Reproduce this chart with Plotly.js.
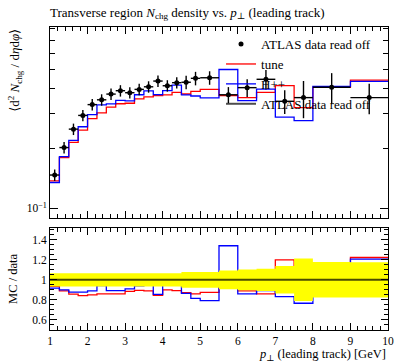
<!DOCTYPE html>
<html>
<head>
<meta charset="utf-8">
<script src="https://cdn.plot.ly/plotly-3.0.1.min.js"></script>
<style>html,body{margin:0;padding:0;background:#fff;}#chart{width:397px;height:362px;}</style>
</head>
<body>
<div id="chart"></div>
<script>
// Bin edges in p_T (leading track) [GeV]
const binEdges = [1,1.25,1.5,1.75,2,2.25,2.5,2.75,3,3.25,3.5,3.75,4,4.25,4.5,4.75,5,5.5,6,6.5,7,7.5,8,9,10];
const dataVals = [0.147,0.202,0.250,0.293,0.332,0.351,0.375,0.390,0.381,0.396,0.408,0.436,0.413,0.428,0.430,0.450,0.453,0.372,0.404,0.445,0.345,0.360,0.406,0.360];
// relative data uncertainty
const dataRelErr = [0.066,0.066,0.066,0.066,0.066,0.066,0.066,0.066,0.066,0.066,0.066,0.066,0.066,0.066,0.078,0.078,0.078,0.093,0.103,0.112,0.137,0.212,0.177,0.175];
// MC: tune
const tuneVals = [0.1374,0.1798,0.2143,0.2470,0.2822,0.3019,0.3225,0.3354,0.3372,0.3544,0.3631,0.3684,0.3717,0.3822,0.3754,0.3870,0.3964,0.368,0.3596,0.3827,0.4140,0.3204,0.406,0.4403];
// MC: H++
const hppVals = [0.1348,0.1818,0.2193,0.2570,0.2955,0.3310,0.3349,0.3483,0.3467,0.3722,0.3896,0.3728,0.3903,0.4164,0.3720,0.3668,0.3592,0.4985,0.3474,0.3974,0.2874,0.2761,0.4101,0.4345];
const xTickVals = [1,2,3,4,5,6,7,8,9,10];
const ratioTickVals = [0.6,0.8,1,1.2,1.4];
const ratioTickText = ['0.6','0.8','1','1.2','1.4'];

const centers = dataVals.map((_, i) => (binEdges[i] + binEdges[i+1]) / 2);
const halfW = dataVals.map((_, i) => (binEdges[i+1] - binEdges[i]) / 2);
const stepY = v => v.concat([v[v.length-1]]);
const dataErr = dataVals.map((v, i) => v * dataRelErr[i]);
const tuneRatio = tuneVals.map((v, i) => v / dataVals[i]);
const hppRatio = hppVals.map((v, i) => v / dataVals[i]);
const dataRatio = dataVals.map(v => v / v);
const bandLo = dataRelErr.map((e, i) => dataRatio[i] - e);
const bandHi = dataRelErr.map((e, i) => dataRatio[i] + e);

const RED = '#ff0000', BLUE = '#0000ff';
const FONT = 'Liberation Serif, DejaVu Serif, serif';

const traces = [
  {x: binEdges, y: stepY(tuneVals), type:'scatter', mode:'lines', line:{shape:'hv', color:RED, width:1.3}, name:'tune', legendrank:2, xaxis:'x', yaxis:'y'},
  {x: binEdges, y: stepY(hppVals), type:'scatter', mode:'lines', line:{shape:'hv', color:BLUE, width:1.3}, name:'H++', legendrank:3, xaxis:'x', yaxis:'y'},
  {x: centers, y: dataVals, type:'scatter', mode:'markers', marker:{color:'#000', size:5},
   error_y:{type:'data', array:dataErr, color:'#000', thickness:1.4, width:0},
   error_x:{type:'data', array:halfW, color:'#000', thickness:1.4, width:0},
   name:'ATLAS data read off', legendrank:1, xaxis:'x', yaxis:'y'},
  {x: binEdges, y: stepY(tuneRatio), type:'scatter', mode:'lines', line:{shape:'hv', color:RED, width:1.3}, showlegend:false, xaxis:'x2', yaxis:'y2'},
  {x: binEdges, y: stepY(hppRatio), type:'scatter', mode:'lines', line:{shape:'hv', color:BLUE, width:1.3}, showlegend:false, xaxis:'x2', yaxis:'y2'},
  {x: binEdges, y: stepY(bandLo), type:'scatter', mode:'lines', line:{shape:'hv', width:0, color:'#ffff00'}, showlegend:false, hoverinfo:'skip', xaxis:'x2', yaxis:'y2'},
  {x: binEdges, y: stepY(bandHi), type:'scatter', mode:'lines', line:{shape:'hv', width:0, color:'#ffff00'}, fill:'tonexty', fillcolor:'#ffff00', showlegend:false, hoverinfo:'skip', xaxis:'x2', yaxis:'y2'},
  {x: binEdges, y: stepY(dataRatio), type:'scatter', mode:'lines', line:{shape:'hv', color:'rgba(0,0,0,0.7)', width:2}, name:'ATLAS data read off', legendrank:4, xaxis:'x2', yaxis:'y2'}
];

const axCommon = {showline:true, linecolor:'#000', linewidth:1, mirror:'allticks', ticks:'inside', tickcolor:'#000', showgrid:false, zeroline:false, tickfont:{family:FONT, size:11.5, color:'#000'}};

const layout = {
  width:397, height:362,
  margin:{l:50, r:9, t:27, b:32},
  paper_bgcolor:'#fff', plot_bgcolor:'#fff',
  font:{family:FONT, color:'#000', size:12},
  showlegend:true,
  legend:{x:0.506, y:0.993, xanchor:'left', yanchor:'top', traceorder:'normal', bgcolor:'rgba(0,0,0,0)', font:{family:FONT, size:13, color:'#000'}, tracegroupgap:0, itemwidth:30},
  title:{text:'Transverse region <i>N</i><sub>chg</sub> density vs. <i>p</i><sub>⊥</sub> (leading track)', x:0, xref:'paper', xanchor:'left', y:1-12/362, yref:'container', yanchor:'middle', font:{family:FONT, size:13, color:'#000'}},
  xaxis: Object.assign({}, axCommon, {domain:[0,1], anchor:'y', range:[1,10], tickmode:'array', tickvals:xTickVals, showticklabels:false, ticklen:7, minor:{dtick:0.2, tick0:1, ticklen:4, ticks:'inside', tickcolor:'#000'}}),
  yaxis: Object.assign({}, axCommon, {domain:[0.3696,1], anchor:'x', type:'log', range:[Math.log10(0.0894), Math.log10(0.815)], tickmode:'array', tickvals:[0.1], ticktext:['10<sup>−1</sup>'], ticklen:8, minor:{tickmode:'array', tickvals:[0.09,0.2,0.3,0.4,0.5,0.6,0.7,0.8], ticklen:5, ticks:'inside', tickcolor:'#000'}}),
  xaxis2: Object.assign({}, axCommon, {domain:[0,1], anchor:'y2', range:[1,10], tickmode:'array', tickvals:xTickVals, ticklen:7, minor:{dtick:0.2, tick0:1, ticklen:4, ticks:'inside', tickcolor:'#000'}}),
  yaxis2: Object.assign({}, axCommon, {domain:[0,0.3366], anchor:'x2', range:[0.5,1.517], tickmode:'array', tickvals:ratioTickVals, ticktext:ratioTickText, ticklen:7, minor:{dtick:0.05, tick0:0, ticklen:4, ticks:'inside', tickcolor:'#000'}}),
  annotations:[
    {text:'⟨d<sup>2</sup> <i>N</i><sub>chg</sub> / d<i>η</i>d<i>φ</i>⟩', textangle:-90, xref:'paper', yref:'paper', x:-0.104, y:0.858, xanchor:'center', yanchor:'middle', showarrow:false, font:{family:FONT, size:13, color:'#000'}},
    {text:'MC / data', textangle:-90, xref:'paper', yref:'paper', x:-0.11, y:0.168, xanchor:'center', yanchor:'middle', showarrow:false, font:{family:FONT, size:12.5, color:'#000'}},
    {text:'<i>p</i><sub>⊥</sub> (leading track) [GeV]', xref:'paper', yref:'paper', x:1, y:-0.084, xanchor:'right', yanchor:'middle', showarrow:false, font:{family:FONT, size:12.5, color:'#000'}}
  ]
};

Plotly.newPlot('chart', traces, layout, {displayModeBar:false, staticPlot:true});
</script>
</body>
</html>
